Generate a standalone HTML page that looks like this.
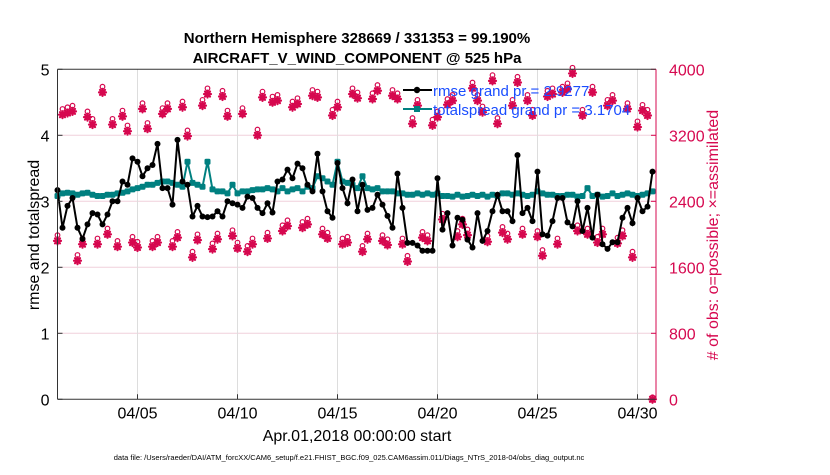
<!DOCTYPE html>
<html><head><meta charset="utf-8"><style>
body{margin:0;background:#fff}
svg text{font-family:"Liberation Sans",Arial,sans-serif}
</style></head><body>
<svg id="chart" width="830" height="470" xmlns="http://www.w3.org/2000/svg">
<rect width="830" height="470" fill="#fff"/>
<text x="357" y="43" font-size="15" font-weight="bold" text-anchor="middle">Northern Hemisphere 328669 / 331353 = 99.190%</text>
<text x="357" y="63" font-size="15" font-weight="bold" text-anchor="middle">AIRCRAFT_V_WIND_COMPONENT @ 525 hPa</text>
<g id="grid"></g>
<g id="obs"></g>
<g id="series"></g>
<g id="axes"></g>
<g>
<line x1="403" y1="90" x2="432" y2="90" stroke="#000" stroke-width="2"/><circle cx="417" cy="90" r="3.2" fill="#000"/>
<text x="433" y="96" font-size="15" fill="#1a4dff">rmse grand pr = 2.9277</text>
<line x1="403" y1="109" x2="432" y2="109" stroke="#008080" stroke-width="2"/><rect x="414" y="106" width="6" height="6" fill="#008080"/>
<text x="433" y="115" font-size="15" fill="#1a4dff">totalspread grand pr = 3.1704</text>
</g>
<text x="357" y="441" font-size="16" text-anchor="middle">Apr.01,2018 00:00:00 start</text>
<text transform="translate(39,235) rotate(-90)" font-size="16" text-anchor="middle">rmse and totalspread</text>
<text transform="translate(718,235) rotate(-90)" font-size="16" text-anchor="middle" fill="#d6084f"># of obs: o=possible; ×=assimilated</text>
<text x="349" y="460" font-size="7.5" text-anchor="middle">data file: /Users/raeder/DAI/ATM_forcXX/CAM6_setup/f.e21.FHIST_BGC.f09_025.CAM6assim.011/Diags_NTrS_2018-04/obs_diag_output.nc</text>
</svg>
<script>
const rmse=[3.17,2.6,2.93,3.05,2.6,2.43,2.65,2.82,2.8,2.65,2.8,3.0,3.0,3.3,3.25,3.65,3.6,3.38,3.5,3.55,3.87,3.2,3.2,2.95,3.93,3.3,3.25,2.77,2.93,2.77,2.76,2.77,2.85,2.77,3.0,2.97,2.95,2.9,3.07,3.05,2.9,2.82,2.97,2.83,3.3,3.33,3.48,3.35,3.57,3.5,3.25,3.15,3.72,3.15,2.85,2.75,3.58,3.2,2.97,3.33,2.85,3.25,2.87,2.9,3.1,2.95,2.78,2.6,3.42,2.9,2.37,2.37,2.33,2.25,2.25,2.25,3.35,2.57,2.82,2.33,2.75,2.72,2.42,2.3,2.82,2.4,2.55,2.85,3.1,2.85,2.85,2.7,3.7,2.82,2.9,2.7,3.45,2.5,2.48,2.7,3.05,3.05,2.68,2.62,3.0,2.55,2.9,2.45,3.1,2.35,2.28,2.38,2.38,2.75,2.9,2.67,3.05,2.85,2.92,3.45];
const spread=[3.08,3.12,3.13,3.12,3.1,3.12,3.13,3.1,3.08,3.08,3.1,3.1,3.12,3.13,3.15,3.18,3.2,3.22,3.25,3.25,3.28,3.3,3.3,3.28,3.25,3.22,3.6,3.28,3.25,3.22,3.6,3.18,3.15,3.15,3.12,3.25,3.12,3.15,3.15,3.17,3.18,3.18,3.2,3.18,3.15,3.2,3.15,3.18,3.2,3.15,3.22,3.2,3.38,3.35,3.3,3.25,3.6,3.3,3.28,3.25,3.2,3.38,3.2,3.18,3.2,3.15,3.15,3.15,3.12,3.12,3.1,3.1,3.12,3.1,3.12,3.1,3.12,3.08,3.08,3.07,3.1,3.07,3.08,3.1,3.08,3.1,3.07,3.1,3.08,3.12,3.12,3.1,3.12,3.1,3.08,3.1,3.15,3.12,3.1,3.1,3.08,3.08,3.1,3.1,3.07,3.08,3.2,3.08,3.1,3.07,3.08,3.12,3.08,3.1,3.12,3.1,3.08,3.1,3.12,3.15];
const obsUsed=[1920,3450,3470,3490,1680,1880,3420,3330,1880,3720,2000,3330,1850,3430,3250,1900,1840,3520,3280,1850,1900,3460,3520,1850,1960,3540,3190,1720,1930,3560,3700,1820,1940,3670,3430,1980,1830,3460,1790,1880,3200,3660,1950,3600,3620,2040,2100,3540,3580,2080,2120,3680,3660,2000,1950,3440,3540,1880,1900,3700,3650,1790,1940,3640,3740,1920,1870,3680,3640,1880,1670,3340,3560,1960,1920,3320,3420,2180,3570,3620,1970,2120,1990,3770,3620,3480,1910,3860,3340,2020,1940,3560,3840,2000,3620,3440,1970,1740,3670,3700,1880,3720,3760,3950,2040,3440,2000,3720,1900,2000,3560,3620,1890,1980,3520,1720,3300,3500,3440,0];
const obsPossible=obsUsed.map(v=>v===0?0:v+45);
const yTicks=[0,1,2,3,4,5];
const y2Ticks=[0,800,1600,2400,3200,4000];
const xTickDays=[4,9,14,19,24,29];
const xTickLabels=["04/05","04/10","04/15","04/20","04/25","04/30"];

const NS="http://www.w3.org/2000/svg";
const L=57.5,R=656,T=69.3,B=399.3;
const xs=d=>L+20*d;
const ys=v=>B-66*v;
const ys2=v=>B-(B-T)*v/4000;
const dayOf=i=>i*0.25;
function mk(tag,attrs,parent){const e=document.createElementNS(NS,tag);for(const k in attrs)e.setAttribute(k,attrs[k]);parent.appendChild(e);return e;}
const grid=document.getElementById('grid'),axes=document.getElementById('axes'),obsG=document.getElementById('obs'),ser=document.getElementById('series');

yTicks.forEach(t=>{
 if(t>0&&t<5){const g=mk('line',{x1:L,x2:R,y1:ys(t),y2:ys(t),stroke:'#f0d0dc','stroke-width':1},grid);
 
 }
 const tx=mk('text',{x:L-8,y:ys(t)+6,'font-size':16,'text-anchor':'end'},axes);tx.textContent=t;
 
 
 mk('line',{x1:L,x2:L+5,y1:ys(t),y2:ys(t),stroke:'#333'},axes);
});
y2Ticks.forEach(t=>{
 const tx=mk('text',{x:R+13,y:ys2(t)+6,'font-size':16,fill:'#d6084f'},axes);tx.textContent=t;
 
 
 mk('line',{x1:R-5,x2:R,y1:ys2(t),y2:ys2(t),stroke:'#d6084f'},axes);
});
xTickDays.forEach((d,i)=>{
 const g=mk('line',{x1:xs(d),x2:xs(d),y1:T,y2:B,stroke:'#ddd'},grid);
 
 
 mk('line',{x1:xs(d),x2:xs(d),y1:B,y2:B-5,stroke:'#333'},axes);
 const tx=mk('text',{x:xs(d),y:B+19,'font-size':16,'text-anchor':'middle'},axes);tx.textContent=xTickLabels[i];
 
 
});
mk('line',{x1:L,x2:R,y1:T,y2:T,stroke:'#333'},axes);
mk('line',{x1:L,x2:R,y1:B,y2:B,stroke:'#333'},axes);
mk('line',{x1:L,x2:L,y1:T,y2:B,stroke:'#333'},axes);
mk('line',{x1:R,x2:R,y1:T,y2:B,stroke:'#d6084f'},axes);

obsUsed.forEach((v,i)=>{
 const x=xs(dayOf(i)),p=obsPossible[i],y=ys2(v);
 const c=mk('circle',{cx:x,cy:ys2(p)-2,r:2.3,fill:'none',stroke:'#d6084f','stroke-width':1.2},obsG);
 
 
 const s=mk('path',{d:`M${x-3.5},${y}H${x+3.5}M${x},${y-3.5}V${y+3.5}M${x-2.5},${y-2.5}L${x+2.5},${y+2.5}M${x-2.5},${y+2.5}L${x+2.5},${y-2.5}`,stroke:'#d6084f','stroke-width':2.2,'stroke-linecap':'round'},obsG);
 
 
});

const sp=mk('polyline',{points:spread.map((v,i)=>xs(dayOf(i))+','+ys(v)).join(' '),fill:'none',stroke:'#008080','stroke-width':2},ser);


spread.forEach((v,i)=>{const r=mk('rect',{x:xs(dayOf(i))-3,y:ys(v)-3,width:6,height:6,rx:1.5,fill:'#008080'},ser);
 
 });
const rl=mk('polyline',{points:rmse.map((v,i)=>xs(dayOf(i))+','+ys(v)).join(' '),fill:'none',stroke:'#000','stroke-width':2},ser);


rmse.forEach((v,i)=>{const c=mk('circle',{cx:xs(dayOf(i)),cy:ys(v),r:3,fill:'#000'},ser);
 
 });
</script>
</body></html>
